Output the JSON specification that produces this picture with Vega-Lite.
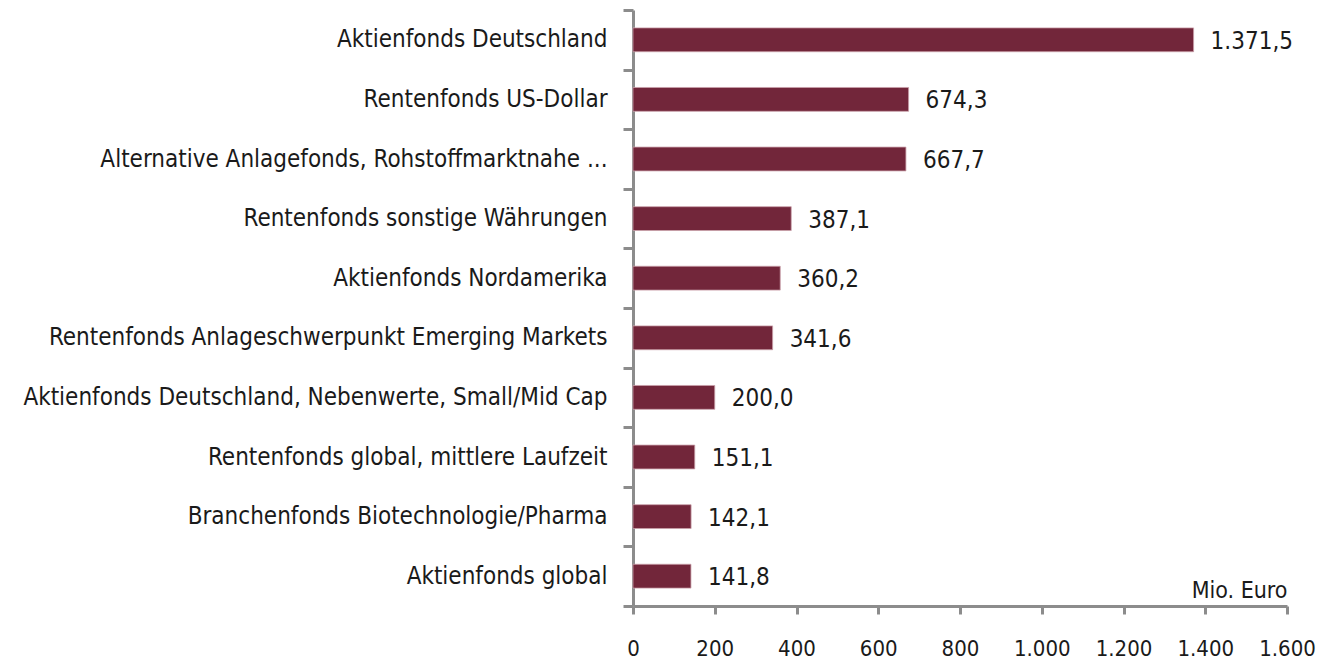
{
  "$schema": "https://vega.github.io/schema/vega-lite/v6.json",
  "width": 654,
  "height": 596,
  "autosize": "none",
  "padding": {"left": 633, "top": 10, "right": 39, "bottom": 59},
  "background": "white",
  "config": {
    "locale": {"number": {"decimal": ",", "thousands": ".", "grouping": [3], "currency": ["", " €"]}},
    "view": {"stroke": null},
    "font": "Liberation Sans Narrow, DejaVu Sans Condensed, sans-serif"
  },
  "data": {
    "values": [
      {"fonds": "Aktienfonds Deutschland", "wert": 1371.5},
      {"fonds": "Rentenfonds US-Dollar", "wert": 674.3},
      {"fonds": "Alternative  Anlagefonds,  Rohstoffmarktnahe ...", "wert": 667.7},
      {"fonds": "Rentenfonds sonstige  Währungen", "wert": 387.1},
      {"fonds": "Aktienfonds Nordamerika", "wert": 360.2},
      {"fonds": "Rentenfonds Anlageschwerpunkt  Emerging Markets", "wert": 341.6},
      {"fonds": "Aktienfonds Deutschland, Nebenwerte, Small/Mid Cap", "wert": 200.0},
      {"fonds": "Rentenfonds global, mittlere Laufzeit", "wert": 151.1},
      {"fonds": "Branchenfonds  Biotechnologie/Pharma", "wert": 142.1},
      {"fonds": "Aktienfonds global", "wert": 141.8}
    ]
  },
  "encoding": {
    "y": {
      "field": "fonds",
      "type": "nominal",
      "sort": null,
      "scale": {"paddingInner": 0, "paddingOuter": 0},
      "axis": {
        "title": null,
        "tickBand": "extent",
        "domainColor": "#8c8c8c",
        "domainWidth": 3,
        "tickColor": "#8c8c8c",
        "tickWidth": 3,
        "tickSize": 10,
        "labelFontSize": 24,
        "labelColor": "#1a1a1a",
        "labelPadding": 16,
        "labelLimit": 0
      }
    },
    "x": {
      "field": "wert",
      "type": "quantitative",
      "scale": {"domain": [0, 1600], "nice": false},
      "axis": {
        "title": "Mio. Euro",
        "titleAnchor": "end",
        "titleAlign": "right",
        "titleBaseline": "alphabetic",
        "titleY": -9,
        "titleFontSize": 23,
        "titleFontWeight": "normal",
        "titleColor": "#1a1a1a",
        "values": [0, 200, 400, 600, 800, 1000, 1200, 1400, 1600],
        "format": ",d",
        "grid": false,
        "labelOverlap": false,
        "labelFlush": false,
        "domainColor": "#8c8c8c",
        "domainWidth": 3,
        "tickColor": "#8c8c8c",
        "tickWidth": 3,
        "tickSize": 8,
        "labelFontSize": 22,
        "labelColor": "#1a1a1a",
        "labelPadding": 24
      }
    }
  },
  "layer": [
    {
      "mark": {"type": "bar", "height": {"band": 0.4}, "color": "#72263a", "stroke": "#c9a0aa", "strokeWidth": 0.8}
    },
    {
      "mark": {"type": "text", "align": "left", "baseline": "middle", "dx": 17, "dy": 2, "fontSize": 24, "color": "#1a1a1a"},
      "encoding": {"text": {"field": "wert", "type": "quantitative", "format": ",.1f"}}
    }
  ]
}
